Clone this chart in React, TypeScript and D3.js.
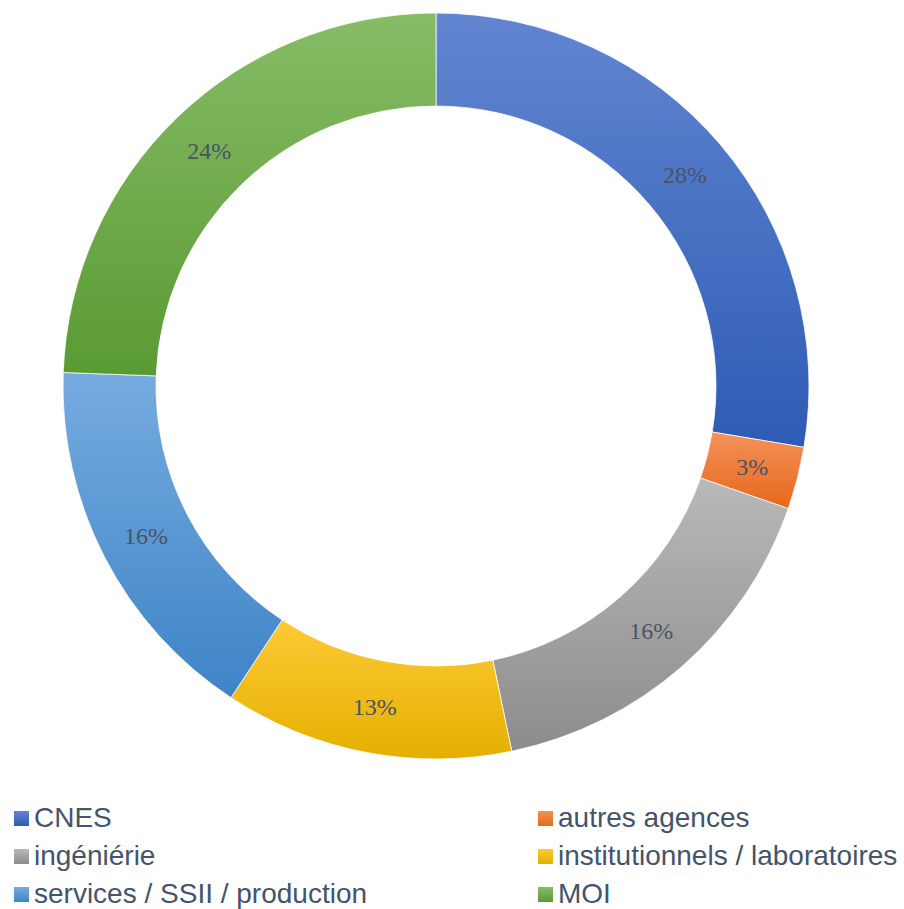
import React from "react";
import * as d3 from "d3";

const categories = ["CNES", "autres agences", "ingéniérie", "institutionnels / laboratoires", "services / SSII / production", "MOI"];
const values = [27.6, 2.7, 16.4, 12.5, 16.3, 24.4];
const topColors = ["#6185d1", "#f3915a", "#b9b9b9", "#ffc935", "#76abe0", "#86bc66"];
const bottomColors = ["#2e5cb4", "#e7681a", "#8c8c8c", "#e3b000", "#3e84c6", "#5a9a33"];

export default function App() {
  const W = 904, H = 909;
  const cx = 436, cy = 386;
  const outerR = 373, innerR = 280;
  const total = d3.sum(values);
  const pie = d3.pie<number>().sort(null).value((d) => d)(values);
  const arc = d3.arc<d3.PieArcDatum<number>>().innerRadius(innerR).outerRadius(outerR);
  const labelArc = d3.arc<d3.PieArcDatum<number>>().innerRadius((innerR + outerR) / 2).outerRadius((innerR + outerR) / 2);
  const fmt = (v: number) => `${Math.round((v / total) * 100)}%`;

  const legendCols = [14, 538];
  const legendRows = [827, 865, 903];

  return (
    <svg width={W} height={H} style={{ position: "absolute", left: 0, top: 0, display: "block" }}>
      <defs>
        {categories.map((c, i) => (
          <linearGradient key={c} id={`g${i}`} x1="0" y1="0" x2="0" y2="1">
            <stop offset="0%" stopColor={topColors[i]} />
            <stop offset="100%" stopColor={bottomColors[i]} />
          </linearGradient>
        ))}
      </defs>
      <g transform={`translate(${cx},${cy})`}>
        {pie.map((p, i) => (
          <path key={i} d={arc(p) || ""} fill={`url(#g${i})`} stroke="#ffffff" strokeWidth={0.75} />
        ))}
        {pie.map((p, i) => {
          const [x, y] = labelArc.centroid(p);
          return (
            <text key={i} x={x} y={y} textAnchor="middle" dominantBaseline="central"
              fontFamily="'Liberation Serif', 'Times New Roman', serif" fontSize={24} fill="#4a5366">
              {fmt(p.data)}
            </text>
          );
        })}
      </g>
      {categories.map((c, i) => {
        const col = i % 2, row = Math.floor(i / 2);
        const x = legendCols[col], y = legendRows[row];
        return (
          <g key={c}>
            <rect x={x} y={y - 16} width={15} height={15} fill={`url(#g${i})`} />
            <text x={x + 20} y={y} fontFamily="'Liberation Sans', Arial, sans-serif" fontSize={28} fill="#44546a">
              {c}
            </text>
          </g>
        );
      })}
    </svg>
  );
}
